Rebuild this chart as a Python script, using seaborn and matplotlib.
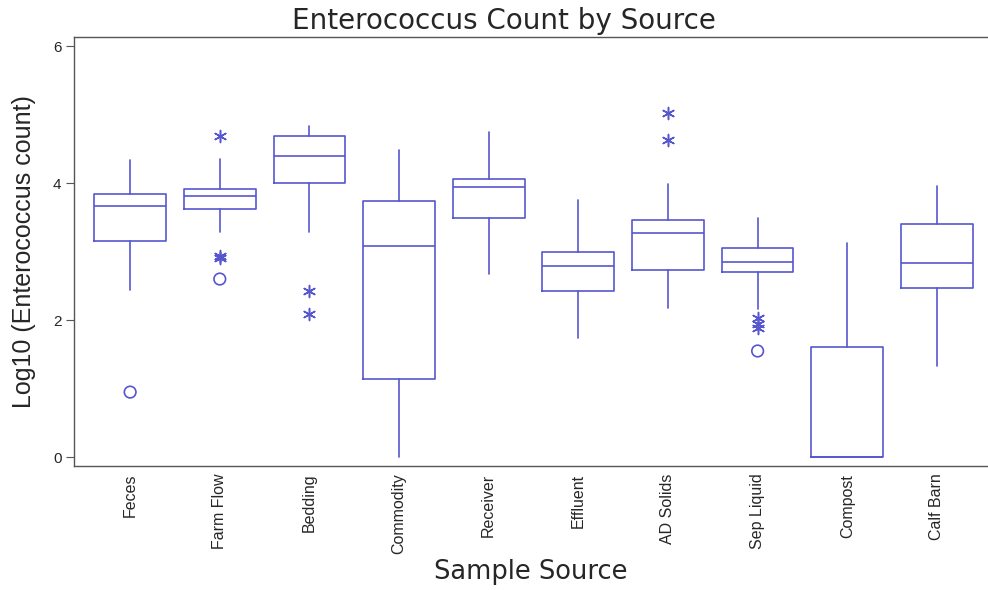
import matplotlib
matplotlib.use("Agg")
import matplotlib.pyplot as plt
import seaborn as sns
import pandas as pd

# ----------------------------------------------------------
# Data
# ----------------------------------------------------------

sources = ["Feces", "Farm Flow", "Bedding", "Commodity", "Receiver",
           "Effluent", "AD Solids", "Sep Liquid", "Compost", "Calf Barn"]

whisker_low = [2.44, 3.28, 3.28, 0.00, 2.67, 1.74, 2.18, 2.17, 0.00, 1.33]
q1          = [3.15, 3.62, 4.00, 1.14, 3.49, 2.42, 2.73, 2.70, 0.00, 2.47]
median      = [3.66, 3.81, 4.39, 3.08, 3.94, 2.79, 3.27, 2.85, 0.00, 2.83]
q3          = [3.84, 3.91, 4.69, 3.74, 4.06, 3.00, 3.46, 3.05, 1.61, 3.41]
whisker_high = [4.34, 4.35, 4.83, 4.48, 4.74, 3.75, 3.99, 3.49, 3.12, 3.96]

# outliers (circles) and extremes (asterisks)
circle_src = ["Feces", "Farm Flow", "Sep Liquid"]
circle_val = [0.95, 2.60, 1.55]
star_src = ["Farm Flow", "Farm Flow", "Farm Flow", "Bedding", "Bedding",
            "AD Solids", "AD Solids", "Sep Liquid", "Sep Liquid", "Sep Liquid"]
star_val = [4.69, 2.93, 2.90, 2.42, 2.09, 5.02, 4.63, 2.03, 1.95, 1.88]

# ----------------------------------------------------------
# Style
# ----------------------------------------------------------

sns.set_style("white")
plt.rcParams["font.family"] = ["Liberation Sans", "DejaVu Sans"]
narrow = ["Liberation Sans Narrow", "Liberation Sans", "DejaVu Sans"]
wide = ["DejaVu Sans"]
blue = "#5656cf"

fig = plt.figure(figsize=(9.88, 5.9), dpi=100)
ax = fig.add_axes([0.075, 0.21, 0.925, 0.727])

stats = []
for i, name in enumerate(sources):
    stats.append({"label": name, "whislo": whisker_low[i], "q1": q1[i],
                  "med": median[i], "q3": q3[i], "whishi": whisker_high[i],
                  "fliers": []})

line = dict(color=blue, linewidth=1.2)
ax.bxp(stats, positions=range(len(sources)), widths=0.8, showcaps=False,
       showfliers=False, boxprops=line, whiskerprops=line, medianprops=line)

pos = {name: i for i, name in enumerate(sources)}
circles = pd.DataFrame({"x": [pos[s] for s in circle_src], "y": circle_val})
stars = pd.DataFrame({"x": [pos[s] for s in star_src], "y": star_val})

sns.scatterplot(data=circles, x="x", y="y", ax=ax, marker="o", s=70,
                facecolor="none", edgecolor=blue, linewidth=1.2)
sns.scatterplot(data=stars, x="x", y="y", ax=ax, marker=(6, 2, 0), s=75,
                color=blue, linewidth=1.1)

ax.set_xlim(-0.625, 9.57)
ax.set_ylim(-0.13, 6.13)
ax.set_yticks([0, 2, 4, 6])
ax.set_yticklabels(["0", "2", "4", "6"], family=["Liberation Sans"])
ax.set_xticks(range(len(sources)))
ax.set_xticklabels(sources, rotation=90, fontsize=11.5, family=narrow)
ax.tick_params(axis="y", left=True, length=6, width=0.8, labelsize=11,
               color="#555555", pad=3)
ax.tick_params(axis="x", bottom=False, pad=2)

for side in ["left", "top", "bottom"]:
    ax.spines[side].set_color("#555555")
    ax.spines[side].set_linewidth(1.0)
ax.spines["right"].set_visible(False)

ax.set_title("Enterococcus Count by Source", fontsize=20, family=wide,
             x=0.47, pad=6)
ax.set_xlabel("Sample Source", fontsize=18.5, family=wide, labelpad=3)
ax.set_ylabel("Log10 (Enterococcus count)", fontsize=18, family=narrow,
              labelpad=12)

fig.savefig("out.png", dpi=100)
